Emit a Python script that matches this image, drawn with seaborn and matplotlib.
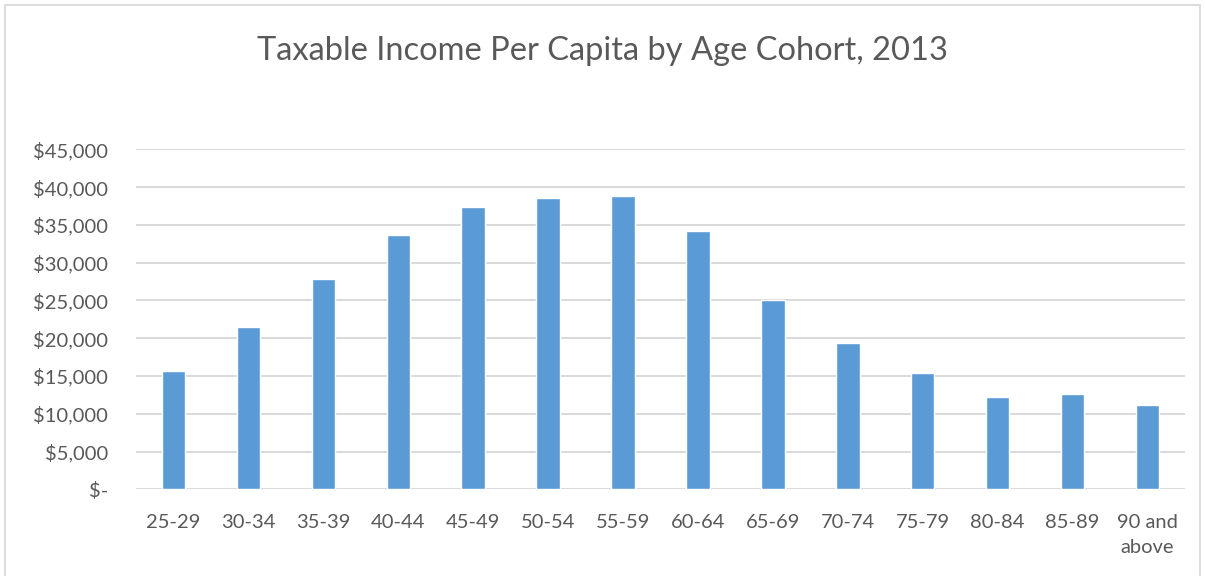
import matplotlib
matplotlib.use('Agg')
import matplotlib.pyplot as plt
import matplotlib.patches as patches
from matplotlib.ticker import FuncFormatter
import seaborn as sns
import pandas as pd

# 数据
age_cohorts = ['25-29', '30-34', '35-39', '40-44', '45-49', '50-54', '55-59',
               '60-64', '65-69', '70-74', '75-79', '80-84', '85-89', '90 and\nabove']
income_per_capita = [15700, 21500, 27800, 33600, 37400, 38600, 38800,
                     34200, 25000, 19300, 15400, 12200, 12600, 11100]
y_ticks = [0, 5000, 10000, 15000, 20000, 25000, 30000, 35000, 40000, 45000]

df = pd.DataFrame({'cohort': age_cohorts, 'income': income_per_capita})

sns.set_style('white')
plt.rcParams['font.family'] = ['Lato', 'DejaVu Sans']

text_color = '#595959'
grid_color = '#D9D9D9'
bar_color = '#5B9BD5'

fig = plt.figure(figsize=(12.05, 5.76), dpi=100)
ax = fig.add_axes([136 / 1205, 1 - 489.3 / 576, (1185 - 136) / 1205, (489.3 - 149.3) / 576])

sns.barplot(data=df, x='cohort', y='income', color=bar_color, width=0.313,
            saturation=1, ax=ax, zorder=3)

ax.set_ylim(0, 45000)
ax.set_xlim(-0.5, len(age_cohorts) - 0.5)
ax.set_yticks(y_ticks)


def money(v, pos):
    if v == 0:
        return '$-'
    return '${:,.0f}'.format(v)


ax.yaxis.set_major_formatter(FuncFormatter(money))
ax.grid(axis='y', color=grid_color, linewidth=1.4, zorder=0)
ax.grid(axis='x', visible=False)
for s in ax.spines.values():
    s.set_visible(False)

ax.tick_params(axis='y', length=0, pad=20, labelsize=14.5, labelcolor=text_color)
ax.tick_params(axis='x', length=0, pad=18, labelsize=14.5, labelcolor=text_color)
for lbl in ax.get_xticklabels():
    lbl.set_linespacing(1.55)
ax.set_xlabel('')
ax.set_ylabel('')

fig.text(0.5, 1 - 51 / 576, 'Taxable Income Per Capita by Age Cohort, 2013',
         ha='center', va='center', fontsize=23.5, color=text_color)

# 图表外框
fig.patches.append(patches.Rectangle((5 / 1205, -0.05), 1195 / 1205, 1.05 - 5 / 576,
                                     transform=fig.transFigure, fill=False,
                                     edgecolor=grid_color, linewidth=1.3))

fig.savefig('out.png', dpi=100)
